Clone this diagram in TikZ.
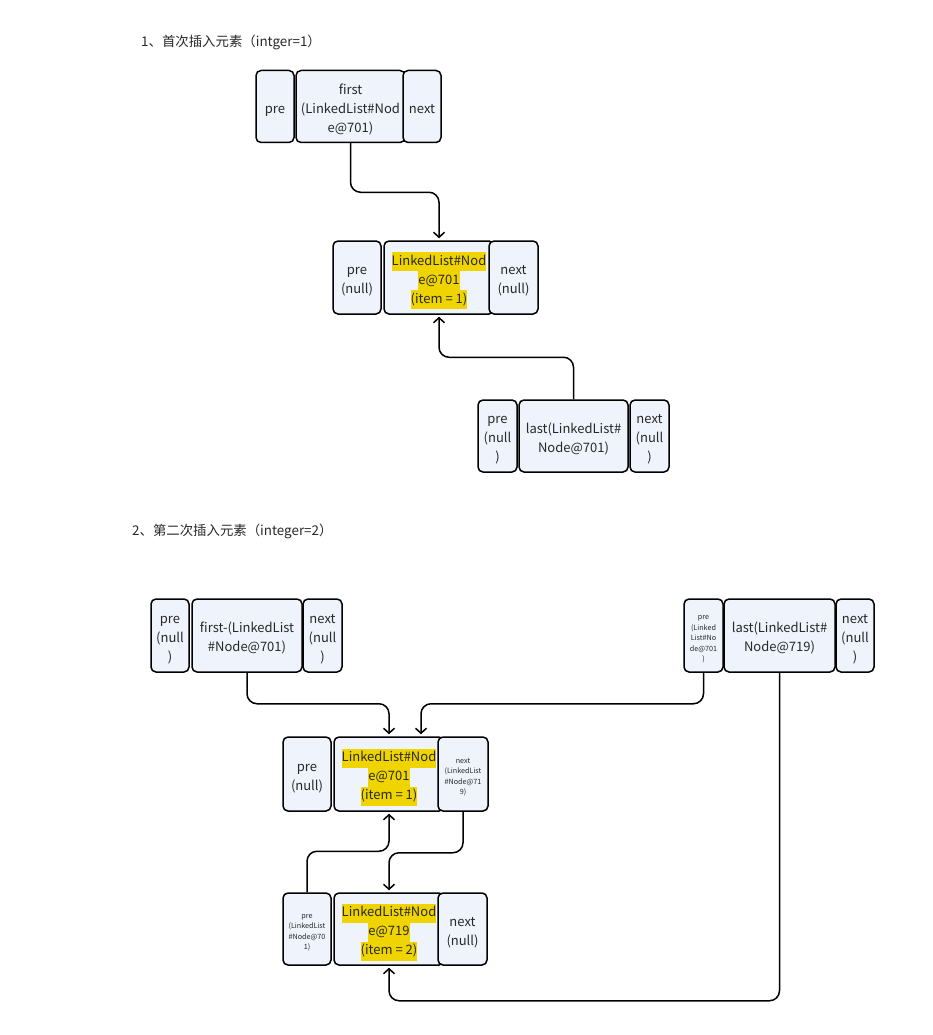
\documentclass[tikz,border=0pt]{standalone}
\usepackage{fontspec}
\setmainfont{Noto Sans CJK SC}
\usetikzlibrary{arrows.meta}
\definecolor{boxfill}{RGB}{238,243,252}
\definecolor{hly}{RGB}{240,212,0}
\definecolor{txt}{RGB}{40,40,40}
\newcommand\hlt[1]{{\setlength{\fboxsep}{0pt}\colorbox{hly}{\strut #1}}}
\newcommand\ct[1]{\raisebox{-3pt}[\height][\depth]{\begin{tabular}{@{}c@{}}#1\end{tabular}}}
\tikzset{
  cell/.style={draw=black, fill=boxfill, rounded corners=5pt, line width=1.5pt,
    inner sep=0pt, text=txt, minimum height=72pt,
    font=\fontsize{13}{19}\selectfont},
  small/.style={font=\fontsize{7.2}{10.5}\selectfont},
  conn/.style={draw=black, line width=1.5pt, rounded corners=10pt,
    -{Straight Barb[length=5pt,width=11pt,line width=1.5pt]}, shorten >=2pt},
  title/.style={anchor=west, text=txt, inner sep=0pt, font=\fontsize{13.4}{16}\selectfont}
}
\begin{document}
\begin{tikzpicture}[x=1pt,y=-1pt]
\useasboundingbox (0,0) rectangle (932,1035);
% Section 1
\node[title] (t1) at (141,42) {1、首次插入元素（intger=1）};
\node[cell, minimum width=38pt] (f1p) at (275,106.5) {\ct{pre}};
\node[cell, minimum width=109pt] (f1m) at (350.5,106.5) {\ct{first\\(LinkedList\#Nod\\e@701)}};
\node[cell, minimum width=38pt] (f1n) at (422,106.5) {\ct{next}};

\node[cell, minimum width=48pt, minimum height=73pt] (n1p) at (357,277.5) {\ct{pre\\(null)}};
\node[cell, minimum width=110pt, minimum height=73pt] (n1m) at (439,277.5) {\ct{\hlt{LinkedList\#Nod}\\\hlt{e@701}\\\hlt{(item = 1)}}};
\node[cell, minimum width=49pt, minimum height=73pt] (n1n) at (513.5,277.5) {\ct{next\\(null)}};

\node[cell, minimum width=39pt] (l1p) at (497.5,436) {\ct{pre\\(null\\)}};
\node[cell, minimum width=109pt] (l1m) at (573.5,436) {\ct{last(LinkedList\#\\Node@701)}};
\node[cell, minimum width=39pt] (l1n) at (649.5,436) {\ct{next\\(null\\)}};

\draw[conn] (f1m.south) -- ++(0,49) -| (n1m.north);
\draw[conn] (l1m.north) -- ++(0,-42) -| (n1m.south);

% Section 2
\node[title] (t2) at (132,531) {2、第二次插入元素（integer=2）};
\node[cell, minimum width=38pt, minimum height=73pt] (f2p) at (170,635.5) {\ct{pre\\(null\\)}};
\node[cell, minimum width=110pt, minimum height=73pt] (f2m) at (247,635.5) {\ct{first-(LinkedList\\\#Node@701)}};
\node[cell, minimum width=39pt, minimum height=73pt] (f2n) at (322.5,635.5) {\ct{next\\(null\\)}};

\node[cell, small, minimum width=39pt, minimum height=73pt] (l2p) at (703.5,635.5) {\ct{pre\\(Linked\\List\#No\\de@701\\)}};
\node[cell, minimum width=111pt, minimum height=73pt] (l2m) at (779.5,635.5) {\ct{last(LinkedList\#\\Node@719)}};
\node[cell, minimum width=38pt, minimum height=73pt] (l2n) at (855,635.5) {\ct{next\\(null\\)}};

\node[cell, minimum width=48pt, minimum height=74pt] (n2p) at (307,774) {\ct{pre\\(null)}};
\node[cell, minimum width=110pt, minimum height=74pt] (n2m) at (389,774) {\ct{\hlt{LinkedList\#Nod}\\\hlt{e@701}\\\hlt{(item = 1)}}};
\node[cell, small, minimum width=50pt, minimum height=74pt] (n2n) at (463,774) {\ct{next\\(LinkedList\\\#Node@71\\9)}};

\node[cell, small, minimum width=48pt] (b2p) at (307,929) {\ct{pre\\(LinkedList\\\#Node@70\\1)}};
\node[cell, minimum width=110pt] (b2m) at (389,929) {\ct{\hlt{LinkedList\#Nod}\\\hlt{e@719}\\\hlt{(item = 2)}}};
\node[cell, minimum width=49pt] (b2n) at (462.5,929) {\ct{next\\(null)}};

\draw[conn] (f2m.south) -- ++(0,31) -| (n2m.north);
\draw[conn] (l2p.south) -- ++(0,31) -| ([xshift=32pt]n2m.north);
\draw[conn] (b2p.north) -- ++(0,-41) -| (n2m.south);
\draw[conn] (n2n.south) -- ++(0,41) -| (b2m.north);
\draw[conn] (l2m.south) -- ++(0,328) -| (b2m.south);
\end{tikzpicture}
\end{document}
